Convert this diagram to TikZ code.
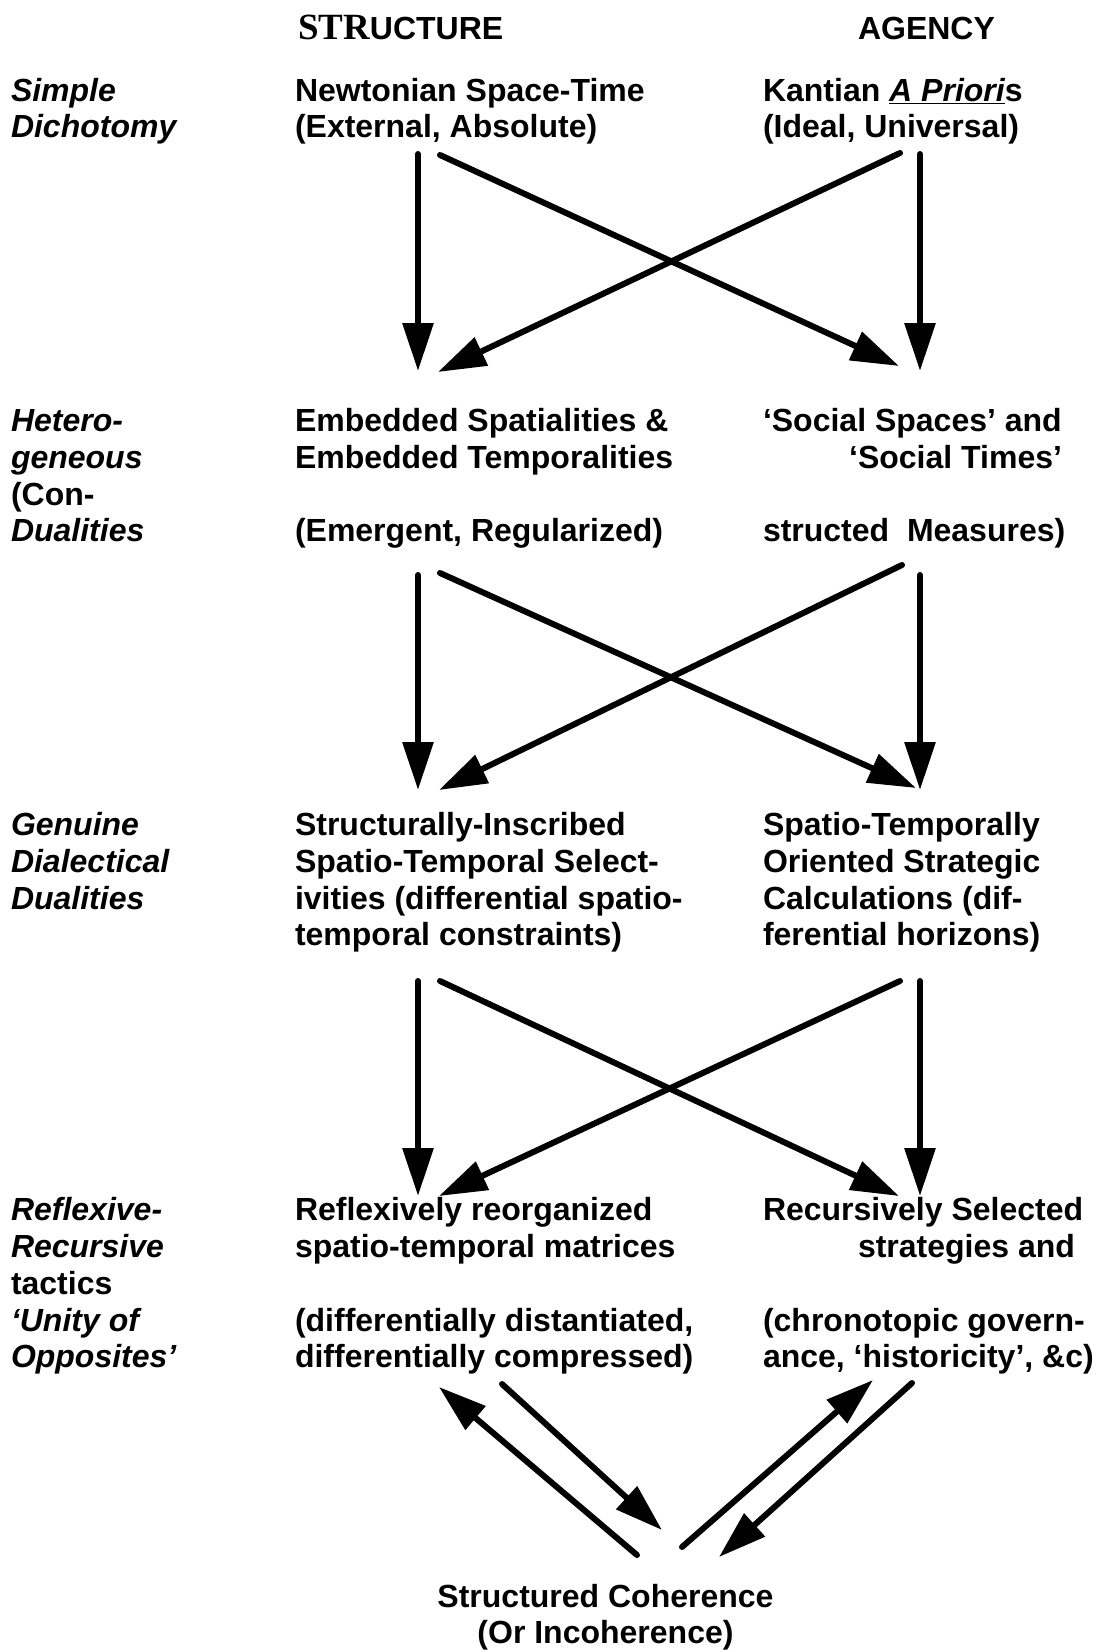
\documentclass[tikz,border=0pt]{standalone}
\usepackage{fontspec}
\setmainfont{Liberation Sans}
\newfontfamily\strfont{Liberation Serif}
\usetikzlibrary{arrows.meta}
\tikzset{
  txt/.style={inner sep=0pt, outer sep=0pt, anchor=base west,
    font=\bfseries\fontsize{32}{36.7}\selectfont},
  lab/.style={txt, font=\bfseries\itshape\fontsize{32}{36.7}\selectfont},
  ctr/.style={txt, anchor=base},
  rgt/.style={txt, anchor=base east},
  arr/.style={line width=6pt, line cap=round,
    -{Triangle[length=48pt,width=30pt]}}
}
\begin{document}
\begin{tikzpicture}[x=1pt,y=-1pt]
\useasboundingbox (0,0) rectangle (1102,1650);
\fill[white] (0,0) rectangle (1102,1650);

% headers
\node[txt] (hS) at (298,39.5) {{\strfont\fontsize{37}{37}\selectfont STR}UCTURE};
\node[txt] (hA) at (858,39.5) {AGENCY};

% row 1
\node[lab] (l1a) at (11,101) {Simple};
\node[lab] (l1b) at (11,137.7) {Dichotomy};
\node[txt] (s1a) at (295,101) {Newtonian Space-Time};
\node[txt] (s1b) at (295,137.7) {(External, Absolute)};
\node[txt] (g1a) at (763,101) {Kantian \underline{\itshape A Priori}s};
\node[txt] (g1b) at (763,137.7) {(Ideal, Universal)};

% row 2
\node[lab] (l2a) at (11,431.7) {Hetero-};
\node[lab] (l2b) at (11,468.4) {geneous};
\node[txt] (l2c) at (11,505.1) {(Con-};
\node[lab] (l2d) at (11,541.8) {Dualities};
\node[txt] (s2a) at (295,431.7) {Embedded Spatialities \&};
\node[txt] (s2b) at (295,468.4) {Embedded Temporalities};
\node[txt] (s2c) at (295,541.8) {(Emergent, Regularized)};
\node[txt] (g2a) at (763,431.7) {‘Social Spaces’ and};
\node[rgt] (g2b) at (1062,468.4) {‘Social Times’};
\node[txt] (g2c) at (763,541.8) {structed\ \ Measures)};

% row 3
\node[lab] (l3a) at (11,835.8) {Genuine};
\node[lab] (l3b) at (11,872.5) {Dialectical};
\node[lab] (l3c) at (11,909.2) {Dualities};
\node[txt] (s3a) at (295,835.8) {Structurally-Inscribed};
\node[txt] (s3b) at (295,872.5) {Spatio-Temporal Select-};
\node[txt] (s3c) at (295,909.2) {ivities (differential spatio-};
\node[txt] (s3d) at (295,945.9) {temporal constraints)};
\node[txt] (g3a) at (763,835.8) {Spatio-Temporally};
\node[txt] (g3b) at (763,872.5) {Oriented Strategic};
\node[txt] (g3c) at (763,909.2) {Calculations (dif-};
\node[txt] (g3d) at (763,945.9) {ferential horizons)};

% row 4
\node[lab] (l4a) at (11,1220.9) {Reflexive-};
\node[lab] (l4b) at (11,1257.6) {Recursive};
\node[txt] (l4c) at (11,1294.3) {tactics};
\node[lab] (l4d) at (11,1331) {‘Unity of};
\node[lab] (l4e) at (11,1367.7) {Opposites’};
\node[txt] (s4a) at (295,1220.9) {Reflexively reorganized};
\node[txt] (s4b) at (295,1257.6) {spatio-temporal matrices};
\node[txt] (s4c) at (295,1331) {(differentially distantiated,};
\node[txt] (s4d) at (295,1367.7) {differentially compressed)};
\node[txt] (g4a) at (763,1220.9) {Recursively Selected};
\node[txt] (g4b) at (858,1257.6) {strategies and};
\node[txt] (g4c) at (763,1331) {(chronotopic govern-};
\node[txt] (g4d) at (763,1367.7) {ance, ‘historicity’, \&c)};

% bottom
\node[ctr] (c1) at (605.5,1607.5) {Structured Coherence};
\node[ctr] (c2) at (605.5,1643) {(Or Incoherence)};

% arrow end points
\coordinate (v1Ls) at (418,154);  \coordinate (v1Le) at (418,371);
\coordinate (v1Rs) at (920,154);  \coordinate (v1Re) at (920,371);
\coordinate (d1as) at (440,155);  \coordinate (d1ae) at (899,366);
\coordinate (d1bs) at (900,153);  \coordinate (d1be) at (438,372);

\coordinate (v2Ls) at (418,575);  \coordinate (v2Le) at (418,790);
\coordinate (v2Rs) at (920,575);  \coordinate (v2Re) at (920,790);
\coordinate (d2as) at (440,573);  \coordinate (d2ae) at (916,788);
\coordinate (d2bs) at (902,565);  \coordinate (d2be) at (439,790);

\coordinate (v3Ls) at (418,981);  \coordinate (v3Le) at (418,1196);
\coordinate (v3Rs) at (920,981);  \coordinate (v3Re) at (920,1196);
\coordinate (d3as) at (440,981);  \coordinate (d3ae) at (899,1196);
\coordinate (d3bs) at (900,981);  \coordinate (d3be) at (439,1196);

\coordinate (bas) at (637,1555);  \coordinate (bae) at (439,1387);
\coordinate (bbs) at (502,1384);  \coordinate (bbe) at (662,1530);
\coordinate (bcs) at (682,1547);  \coordinate (bce) at (873,1380);
\coordinate (bds) at (912,1383);  \coordinate (bde) at (719,1557);

% arrows
\draw[arr] (v1Ls) -- (v1Le);
\draw[arr] (v1Rs) -- (v1Re);
\draw[arr] (d1as) -- (d1ae);
\draw[arr] (d1bs) -- (d1be);
\draw[arr] (v2Ls) -- (v2Le);
\draw[arr] (v2Rs) -- (v2Re);
\draw[arr] (d2as) -- (d2ae);
\draw[arr] (d2bs) -- (d2be);
\draw[arr] (v3Ls) -- (v3Le);
\draw[arr] (v3Rs) -- (v3Re);
\draw[arr] (d3as) -- (d3ae);
\draw[arr] (d3bs) -- (d3be);
\draw[arr] (bas) -- (bae);
\draw[arr] (bbs) -- (bbe);
\draw[arr] (bcs) -- (bce);
\draw[arr] (bds) -- (bde);
\end{tikzpicture}
\end{document}
